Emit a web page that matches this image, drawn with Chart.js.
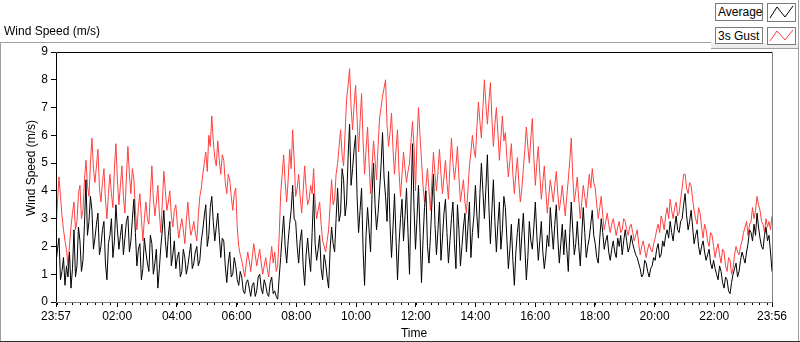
<!DOCTYPE html>
<html>
<head>
<meta charset="utf-8">
<script src="https://cdn.jsdelivr.net/npm/chart.js@4.4.1/dist/chart.umd.min.js"></script>
<style>
html,body{margin:0;padding:0;background:#fff;}
#panel{position:relative;width:800px;height:342px;overflow:hidden;font-family:"Liberation Sans",Arial,sans-serif;font-size:12px;color:#000;}
#grafico{position:absolute;left:0;top:0;}
.linea{position:absolute;background:#a0a0a0;}
#titulo{position:absolute;left:4px;top:24px;white-space:nowrap;}
.caja{position:absolute;box-sizing:border-box;border:1px solid #7a7a7a;background:#fff;padding:1px 0 0 2px;line-height:14px;white-space:nowrap;}
.muestra{position:absolute;box-sizing:border-box;border:1px solid #7a7a7a;background:#fff;}
</style>
</head>
<body>
<div id="panel">
<canvas id="grafico" width="800" height="342"></canvas>
<div class="linea" style="left:0;top:42px;width:711px;height:1px"></div>
<div class="linea" style="left:0;top:42px;width:1px;height:300px"></div>
<div class="linea" style="left:711px;top:43px;width:88px;height:5px;background:#ececec"></div>
<div class="linea" style="left:711px;top:48px;width:88px;height:1px"></div>
<div class="linea" style="left:798px;top:0;width:1px;height:342px"></div>
<div class="linea" style="left:0;top:341px;width:800px;height:1px;background:#303030"></div>
<div id="titulo">Wind Speed (m/s)</div>
<div class="caja" style="left:715px;top:3px;width:48px;height:18px">Average</div>
<div class="muestra" style="left:767px;top:3px;width:29px;height:19px"><svg width="27" height="17"><polyline points="2,14 9,3 17,13 25,2" fill="none" stroke="#000" stroke-width="1"/></svg></div>
<div class="caja" style="left:715px;top:27px;width:48px;height:17px">3s Gust</div>
<div class="muestra" style="left:767px;top:27px;width:29px;height:18px"><svg width="27" height="16"><polyline points="2,13 9,3 17,12 25,2" fill="none" stroke="#ff4040" stroke-width="1"/></svg></div>
</div>
<script>
// eje de tiempo (minutos desde 23:57)
const minutosTotales = 1439;
const etiquetasTiempo = ["23:57","02:00","04:00","06:00","08:00","10:00","12:00","14:00","16:00","18:00","20:00","22:00","23:56"];
const minutosEtiquetas = [0,123,243,363,483,603,723,843,963,1083,1203,1323,1439];

// velocidad media (m/s), una muestra cada ~3 min
const promedio = [
1.4,1.9,2.3,0.8,1.1,1.6,0.6,1.3,0.9,1.8,0.5,1.2,2.6,0.9,1.3,2.7,2.2,1.1,1.5,2.8,
4.4,2.4,2.9,3.8,3.3,1.9,2.3,2.8,3.2,1.7,2.0,2.6,2.9,1.4,0.8,2.1,2.4,3.0,1.6,2.2,
3.5,2.6,1.9,2.4,2.8,1.7,2.3,2.9,3.1,1.8,2.2,3.0,3.7,2.5,1.3,1.9,2.1,0.8,1.2,2.3,
1.8,1.4,1.1,2.4,2.1,1.0,1.4,1.9,0.5,1.2,2.0,2.6,3.3,2.2,1.6,2.4,2.9,1.3,1.7,2.2,
1.2,1.6,1.8,0.9,1.1,1.9,1.6,1.0,1.3,1.7,2.1,1.2,1.4,1.8,2.0,1.3,1.5,2.2,2.6,3.1,
3.5,2.0,2.4,3.4,3.8,2.9,2.2,2.7,3.2,2.4,1.6,2.3,2.2,1.3,0.7,1.4,1.8,0.9,1.0,1.6,
1.3,0.8,0.6,1.1,0.9,0.4,0.3,0.7,0.8,0.5,0.2,0.6,0.7,0.2,0.4,0.9,1.0,0.5,0.3,0.8,
0.6,0.3,0.2,0.7,0.9,0.3,0.4,0.2,0.1,0.9,1.6,2.4,3.1,2.0,1.4,2.2,2.8,3.3,4.2,3.0,
2.9,2.0,1.4,2.2,2.6,1.3,0.6,1.7,2.3,1.6,1.1,2.5,3.9,2.1,1.5,1.9,2.4,1.2,0.8,1.7,
1.4,0.9,0.5,1.9,2.7,2.1,1.8,3.0,4.1,2.9,3.2,4.8,4.4,3.1,3.6,5.2,6.4,4.2,4.8,5.5,
6.0,3.8,2.5,3.3,4.1,1.9,0.6,2.4,3.4,2.6,1.8,3.9,5.0,3.5,2.6,3.2,4.0,4.9,6.1,4.5,
3.8,2.9,4.7,2.8,1.6,2.7,3.9,2.3,0.8,2.1,3.0,3.7,2.2,3.1,4.1,2.5,1.0,3.6,5.7,3.4,
1.9,3.0,4.2,2.5,0.7,2.2,3.4,4.0,2.0,1.4,2.4,3.6,4.6,2.8,1.7,2.6,3.6,1.5,2.3,3.2,
3.7,2.5,1.4,2.2,3.0,3.6,2.1,1.2,3.5,2.6,1.3,2.0,2.7,3.2,1.8,2.7,3.6,1.6,2.5,3.1,
4.2,3.1,2.3,3.9,5.0,4.0,3.0,4.1,5.3,3.4,2.1,3.3,4.4,2.9,1.8,2.8,3.6,1.9,2.6,3.8,
3.4,2.3,1.2,1.9,2.8,1.5,0.6,1.8,2.5,3.0,1.5,2.4,3.2,2.0,0.8,1.6,2.9,2.2,1.9,2.7,
3.6,2.4,1.5,2.2,2.9,1.8,1.2,1.7,2.4,2.0,3.4,2.6,1.9,2.8,3.5,2.3,1.4,2.1,2.8,1.7,
2.6,1.9,1.1,2.5,3.6,2.6,1.7,2.1,2.9,2.0,1.3,2.4,3.4,2.5,1.6,2.0,2.3,2.8,3.3,2.4,
2.1,1.6,1.4,2.3,3.0,2.5,1.9,2.2,2.4,1.8,1.5,1.9,2.2,1.8,1.6,2.3,2.0,2.4,1.7,2.2,
2.6,2.2,1.8,2.0,2.4,2.1,1.9,1.7,1.6,1.4,1.2,0.9,1.0,1.5,1.4,1.1,0.9,1.2,1.3,1.6,
1.5,1.9,2.1,1.6,1.7,2.2,2.0,2.4,2.6,2.3,2.9,2.5,2.2,2.7,3.1,2.6,2.5,2.9,3.0,3.5,
3.9,3.1,2.6,2.9,3.3,2.7,2.1,2.4,2.6,2.0,1.7,2.0,2.2,1.8,1.5,1.7,1.9,1.4,1.2,1.5,
1.2,1.0,0.8,1.3,1.1,0.7,0.5,0.9,0.8,0.4,0.3,0.7,1.0,1.2,1.4,0.9,1.1,1.5,1.8,1.6,
1.4,1.8,2.1,2.6,2.5,2.2,2.8,2.4,3.2,2.7,2.3,2.0,1.9,2.4,2.7,2.2,2.4,1.8,1.1
];

// rafaga 3s (m/s)
const rafaga = [
2.6,3.6,4.5,3.8,3.1,2.6,2.2,1.9,1.3,2.0,2.7,3.2,3.6,2.6,2.9,3.9,4.2,3.0,3.3,4.4,
5.1,4.2,3.8,5.0,5.9,4.8,4.3,4.9,5.5,4.1,3.6,4.3,4.8,3.7,3.0,3.9,4.6,3.9,3.4,4.8,
5.7,4.4,3.5,4.2,4.9,3.8,3.2,4.5,5.6,4.6,3.9,4.8,4.4,3.3,2.6,3.4,3.9,3.0,2.2,3.0,
3.6,3.0,2.8,3.9,4.9,3.7,3.1,3.6,4.2,3.2,2.5,3.6,4.7,4.0,3.3,3.6,4.0,3.1,2.7,3.3,
3.5,2.8,2.3,2.7,3.0,2.6,2.1,2.9,3.6,2.9,2.4,2.6,2.9,2.5,2.2,3.1,3.8,4.1,4.6,5.0,
5.4,4.7,6.0,5.6,6.7,5.8,5.2,4.9,5.8,5.1,4.6,5.3,5.1,4.3,3.9,4.6,4.4,3.8,3.3,3.9,
4.1,2.7,2.0,1.7,1.5,1.2,0.9,1.4,1.8,1.5,1.1,1.6,2.1,1.7,1.3,1.6,1.9,1.4,1.0,1.3,
1.6,1.2,0.9,1.5,2.0,1.4,1.8,1.1,1.3,2.4,3.9,4.6,5.3,4.3,3.6,4.4,5.5,4.8,6.2,5.1,
3.8,4.1,4.6,3.8,3.2,4.0,4.9,4.1,3.5,3.7,4.2,3.9,4.8,3.6,3.0,3.3,3.6,2.8,2.2,2.0,
1.8,2.2,2.6,3.5,4.4,3.5,3.7,4.6,5.0,5.6,6.2,5.3,4.9,6.1,7.3,7.8,8.4,7.0,6.2,7.1,
7.8,6.6,5.4,6.5,7.5,5.8,4.6,5.5,6.3,5.0,3.9,4.9,5.8,5.1,4.4,5.6,6.6,7.0,7.4,7.7,
8.0,6.4,5.6,6.1,6.8,5.5,4.6,5.5,6.2,4.7,3.8,4.6,5.4,4.8,4.3,4.7,5.0,5.8,6.5,5.6,
4.0,5.8,7.0,6.0,5.1,4.2,3.6,4.2,4.8,4.0,3.3,4.4,5.4,4.6,4.0,4.7,5.5,4.6,3.9,4.5,
5.1,4.3,3.7,4.9,5.9,5.0,4.4,4.9,5.6,4.5,3.6,4.0,4.4,3.6,3.2,4.0,4.9,5.4,6.0,5.5,
5.2,6.3,7.2,6.5,5.9,7.0,8.0,7.1,6.4,7.2,7.9,6.6,5.6,6.4,7.0,6.1,5.1,5.9,6.7,5.8,
6.1,5.2,4.5,5.1,5.7,4.6,3.9,4.6,5.2,4.3,3.6,4.1,4.8,5.5,6.3,5.6,5.0,5.9,6.6,5.2,
4.2,5.0,5.6,4.6,3.7,4.3,4.9,4.0,3.2,3.8,4.4,4.0,3.6,4.2,4.7,3.9,3.3,3.7,4.2,3.6,
3.1,3.8,4.4,5.1,5.9,4.5,3.6,4.0,4.5,3.7,3.0,3.6,4.2,3.8,3.4,4.0,4.6,4.1,4.8,4.3,
4.1,3.5,3.0,3.4,3.8,3.1,2.6,2.9,3.2,2.8,2.5,2.8,3.0,2.7,2.4,2.7,2.9,2.5,2.6,3.0,
2.9,2.6,2.4,2.7,2.8,2.5,2.2,2.4,2.6,2.1,1.7,2.0,2.2,1.9,1.6,1.9,2.1,1.9,1.8,2.1,
2.3,2.6,2.8,2.5,3.1,2.9,2.6,3.1,3.4,3.0,3.7,3.3,3.0,3.4,3.6,3.1,3.2,3.7,4.1,4.6,
4.6,4.1,3.9,4.3,4.2,3.7,3.3,3.0,2.8,3.4,3.2,2.7,2.3,2.8,2.6,2.2,2.0,2.5,2.4,2.0,
1.6,1.9,2.1,1.7,1.4,1.9,1.8,1.3,1.1,1.6,1.5,1.0,1.2,1.7,2.0,1.8,1.7,2.0,2.2,2.5,
2.7,2.9,2.4,2.8,2.9,3.4,3.0,3.3,3.8,3.5,3.3,2.9,2.8,2.5,3.0,2.7,2.9,2.6,3.1
];

const puntos = serie => {
let paso = minutosTotales/(serie.length-1);
return serie.map((v,i)=>({x:i*paso,y:v}));
};

// marcas menores cada 15 min desde las 00:00
let menores = [];
for(let m=3;m<minutosTotales;m+=15){ menores.push(m); }

const marco = {
id:"marco",
afterDraw(chart){
const ctx = chart.ctx;
const a = chart.chartArea;
const x = chart.scales.x;
ctx.save();
ctx.lineWidth = 1;
ctx.strokeStyle = "#000";
ctx.beginPath();
for(let i=0;i<menores.length;i++){
let px = Math.round(x.getPixelForValue(menores[i]))+0.5;
ctx.moveTo(px,a.bottom);
ctx.lineTo(px,a.bottom+3);
}
ctx.stroke();
// borde del area
ctx.beginPath();
ctx.moveTo(a.left+0.5,a.bottom);
ctx.lineTo(a.left+0.5,a.top+0.5);
ctx.lineTo(a.right,a.top+0.5);
ctx.stroke();
ctx.strokeStyle = "#808080";
ctx.beginPath();
ctx.moveTo(a.right+0.5,a.top);
ctx.lineTo(a.right+0.5,a.bottom+0.5);
ctx.lineTo(a.left,a.bottom+0.5);
ctx.stroke();
// titulo eje y
ctx.fillStyle = "#000";
ctx.font = '12px "Liberation Sans", Arial, sans-serif';
ctx.textAlign = "center";
ctx.textBaseline = "middle";
ctx.translate(32,168);
ctx.rotate(-Math.PI/2);
ctx.fillText("Wind Speed (m/s)",0,0);
ctx.restore();
}
};

Chart.defaults.font.family = '"Liberation Sans", Arial, sans-serif';
Chart.defaults.font.size = 12;
Chart.defaults.color = "#000";

const ctx = document.getElementById("grafico");

let grafico = new Chart(ctx, {
type:"line",
data:{
datasets:[
{
label:"Average",
data:puntos(promedio),
borderColor:"#000",
borderWidth:1,
pointRadius:0,
tension:0
},
{
label:"3s Gust",
data:puntos(rafaga),
borderColor:"#ff4040",
borderWidth:1,
pointRadius:0,
tension:0
}
]
},
options:{
responsive:false,
animation:false,
layout:{padding:{top:52,right:28,left:0,bottom:0}},
plugins:{legend:{display:false},tooltip:{enabled:false}},
scales:{
x:{
type:"linear",
min:0,
max:minutosTotales,
afterBuildTicks:s=>{ s.ticks = minutosEtiquetas.map(v=>({value:v})); },
afterFit:s=>{ s.height = 40; },
ticks:{autoSkip:false,maxRotation:0,padding:2,callback:(v,i)=>etiquetasTiempo[i]},
grid:{drawOnChartArea:false,tickLength:5,tickColor:"#000"},
border:{display:false},
title:{display:true,text:"Time",padding:{top:0,bottom:1}}
},
y:{
min:0,
max:9,
afterFit:s=>{ s.width = 56; },
ticks:{stepSize:1,padding:3},
grid:{drawOnChartArea:false,tickLength:5,tickColor:"#000"},
border:{display:false}
}
}
},
plugins:[marco]
});
</script>
</body>
</html>
